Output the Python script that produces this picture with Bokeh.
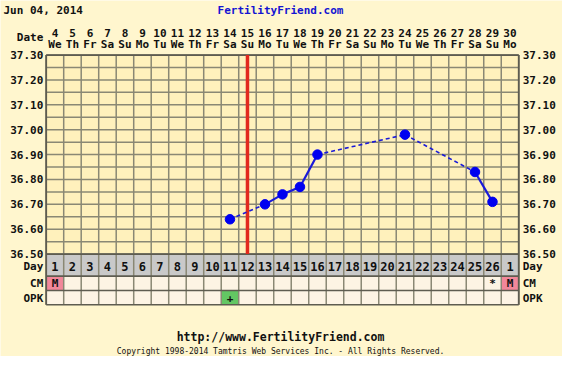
from bokeh.plotting import figure
from bokeh.models import Range1d
from bokeh.core.properties import value
from bokeh.embed import file_html
from bokeh.resources import INLINE

# ---------------- data ----------------
chart_date = "Jun 04, 2014"
site_name = "FertilityFriend.com"
site_url = "http://www.FertilityFriend.com"
copyright_text = "Copyright 1998-2014 Tamtris Web Services Inc. - All Rights Reserved."

dates = ["4", "5", "6", "7", "8", "9", "10", "11", "12", "13", "14", "15", "16", "17",
         "18", "19", "20", "21", "22", "23", "24", "25", "26", "27", "28", "29", "30"]
weekdays = ["We", "Th", "Fr", "Sa", "Su", "Mo", "Tu", "We", "Th", "Fr", "Sa", "Su", "Mo", "Tu",
            "We", "Th", "Fr", "Sa", "Su", "Mo", "Tu", "We", "Th", "Fr", "Sa", "Su", "Mo"]
cycle_days = ["1", "2", "3", "4", "5", "6", "7", "8", "9", "10", "11", "12", "13", "14",
              "15", "16", "17", "18", "19", "20", "21", "22", "23", "24", "25", "26", "1"]
temp_ticks = [37.30, 37.20, 37.10, 37.00, 36.90, 36.80, 36.70, 36.60, 36.50]
temp_labels = ["37.30", "37.20", "37.10", "37.00", "36.90", "36.80", "36.70", "36.60", "36.50"]

# temperature readings (column index = cycle-day column)
temp_cols = [11, 13, 14, 15, 16, 21, 25, 26]
temps = [36.64, 36.70, 36.74, 36.77, 36.90, 36.98, 36.83, 36.71]

ovulation_col = 12

cm_cols = [1, 26, 27]
cm_text = ["M", "*", "M"]
cm_fill = ["#F2879A", None, "#F2879A"]

opk_cols = [11]
opk_text = ["+"]
opk_fill = ["#63C763"]

# ---------------- layout (reference pixel coords scaled to canvas) ----------------
W, H = 562, 356
SX, SY = W / 578.0, H / 372.0
REF_L, REF_R = 47.0, 533.0      # frame left/right in reference px
REF_T, REF_B = 57.0, 265.0      # frame top/bottom in reference px
NCOL = len(dates)
TMIN, TMAX = 36.50, 37.30

PX = (REF_R - REF_L) * SX / NCOL
PY = (REF_B - REF_T) * SY / (TMAX - TMIN)
x0 = 0.5 - REF_L * SX / PX
y1 = TMAX + REF_T * SY / PY


def fx(rpx):
    return x0 + rpx * SX / PX


def fy(rpy):
    return y1 - rpy * SY / PY


OUTER = "#FFF6CE"
PLOT_BG = "#FFF1BC"
CELL_BG = "#FDF4E4"
DAY_BG = "#C9C9C9"
GRID = "#8A8874"
BORDER = "#5E5C50"
FONT = value("DejaVu Sans Mono")

p = figure(width=W, height=H, x_range=Range1d(x0, x0 + W / PX),
           y_range=Range1d(y1 - H / PY, y1), min_border=0,
           x_axis_location=None, y_axis_location=None,
           toolbar_location=None, output_backend="svg",
           background_fill_color=OUTER, border_fill_color=OUTER)
p.grid.visible = False
p.outline_line_color = None

left_edge = 0.5
right_edge = NCOL + 0.5
row_day = (REF_B, 288.0)
row_cm = (288.0, 303.0)
row_opk = (303.0, 318.0)

# plot background
p.quad(left=[left_edge], right=[right_edge], bottom=[TMIN], top=[TMAX],
       fill_color=PLOT_BG, line_color=None)
# table backgrounds
p.quad(left=[left_edge], right=[right_edge], bottom=[fy(row_day[1])], top=[fy(row_day[0])],
       fill_color=DAY_BG, line_color=None)
p.quad(left=[left_edge], right=[right_edge], bottom=[fy(row_opk[1])], top=[fy(row_cm[0])],
       fill_color=CELL_BG, line_color=None)

# marked cells
cols_f = [c for c, f in zip(cm_cols, cm_fill) if f]
p.quad(left=[c - 0.5 for c in cols_f], right=[c + 0.5 for c in cols_f],
       bottom=[fy(row_cm[1])] * len(cols_f), top=[fy(row_cm[0])] * len(cols_f),
       fill_color=[f for f in cm_fill if f], line_color=None)
p.quad(left=[c - 0.5 for c in opk_cols], right=[c + 0.5 for c in opk_cols],
       bottom=[fy(row_opk[1])] * len(opk_cols), top=[fy(row_opk[0])] * len(opk_cols),
       fill_color=opk_fill, line_color=None)

# horizontal grid lines in plot
hy = [round(TMIN + 0.05 * i, 2) for i in range(int(round((TMAX - TMIN) / 0.05)) + 1)]
p.segment(x0=[left_edge] * len(hy), x1=[right_edge] * len(hy), y0=hy, y1=hy,
          line_color=GRID, line_width=1.5)
# vertical grid lines through plot and table
vx = [k + 0.5 for k in range(NCOL + 1)]
p.segment(x0=vx, x1=vx, y0=[TMAX] * len(vx), y1=[fy(row_opk[1])] * len(vx),
          line_color=GRID, line_width=1.5)
# table row lines
ty = [fy(row_day[1]), fy(row_cm[1]), fy(row_opk[1])]
p.segment(x0=[left_edge] * 3, x1=[right_edge] * 3, y0=ty, y1=ty,
          line_color=BORDER, line_width=1.6)
# borders
p.segment(x0=[left_edge, right_edge, left_edge, left_edge],
          x1=[left_edge, right_edge, right_edge, right_edge],
          y0=[TMAX, TMAX, TMAX, TMIN], y1=[fy(row_opk[1]), fy(row_opk[1]), TMAX, TMIN],
          line_color=BORDER, line_width=1.8)

# ovulation line
p.segment(x0=[ovulation_col], x1=[ovulation_col], y0=[TMIN], y1=[TMAX],
          line_color="#E2291D", line_width=3.5)

# temperature line: solid for consecutive days, dashed across gaps
sx0, sx1, sy0, sy1 = [], [], [], []
dx0, dx1, dy0, dy1 = [], [], [], []
for i in range(len(temp_cols) - 1):
    if temp_cols[i + 1] - temp_cols[i] == 1:
        sx0.append(temp_cols[i]); sx1.append(temp_cols[i + 1])
        sy0.append(temps[i]); sy1.append(temps[i + 1])
    else:
        dx0.append(temp_cols[i]); dx1.append(temp_cols[i + 1])
        dy0.append(temps[i]); dy1.append(temps[i + 1])
p.segment(x0=dx0, x1=dx1, y0=dy0, y1=dy1, line_color="#1A1AD8", line_width=1.6,
          line_dash="4 3")
p.segment(x0=sx0, x1=sx1, y0=sy0, y1=sy1, line_color="#1A1AD8", line_width=2.2)
p.scatter(x=temp_cols, y=temps, size=9.5, fill_color="#0000F0", line_color="#0000F0")


# ---------------- texts ----------------
def txt(x, y, t, align="center", size="11px", style="bold", color="#111111"):
    p.text(x=x, y=y, text=t, text_font=FONT, text_font_size=size,
           text_font_style=style, text_align=align, text_baseline="middle",
           text_color=color)


cols = [k + 1 for k in range(NCOL)]
lx = fx(44)
rx = fx(537)
txt([fx(3)], [fy(10)], [chart_date], align="left")
txt([fx(288)], [fy(10)], [site_name], color="#1414D2")
txt([lx], [fy(39)], ["Date"], align="right")
txt(cols, [fy(33.5)] * NCOL, dates)
txt(cols, [fy(45.5)] * NCOL, weekdays)

# temperature labels both sides
txt([lx] * len(temp_ticks), temp_ticks, temp_labels, align="right")
txt([rx] * len(temp_ticks), temp_ticks, temp_labels, align="left")

# table rows
row_names = ["Day", "CM", "OPK"]
row_mid = [fy(277.5), fy(296), fy(311)]
txt([lx] * 3, row_mid, row_names, align="right")
txt([rx] * 3, row_mid, row_names, align="left")
txt(cols, [row_mid[0]] * NCOL, cycle_days, size="12px")
txt(cm_cols, [row_mid[1]] * len(cm_cols), cm_text)
txt(opk_cols, [row_mid[2]] * len(opk_cols), opk_text)

# footer
txt([fx(288)], [fy(352)], [site_url], size="11.5px")
txt([fx(288)], [fy(367)], [copyright_text], size="8px", style="normal")

open("out.html", "w").write(file_html(p, INLINE))
